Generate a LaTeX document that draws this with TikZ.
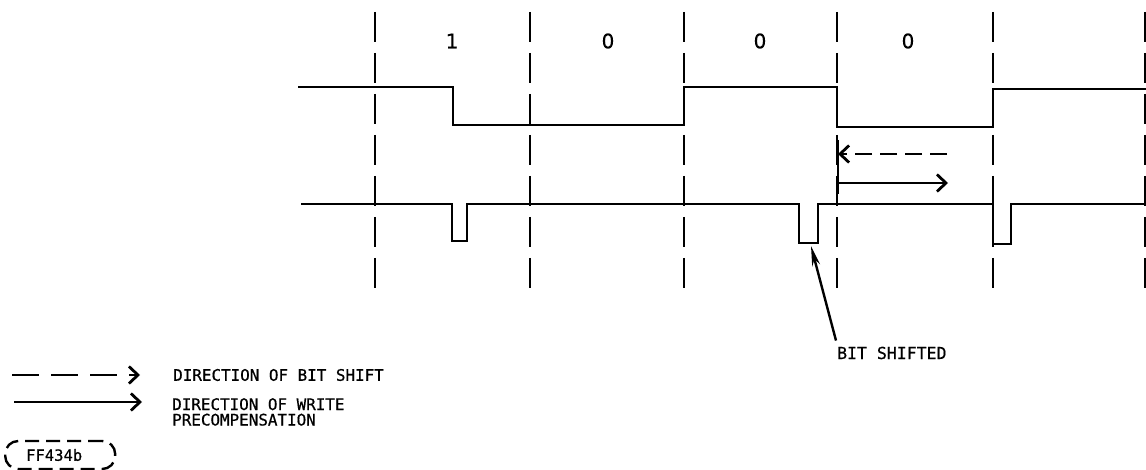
\documentclass[tikz,border=0pt]{standalone}
\usepackage{fontspec}
\newfontfamily\lblfont[FakeBold=0.6]{DejaVu Sans Mono}
\newfontfamily\digfont[FakeBold=0.4]{DejaVu Sans}
\usetikzlibrary{arrows.meta}
\begin{document}
\begin{tikzpicture}[x=1pt,y=-1pt,
  wave/.style={line width=2.8pt, line join=miter},
  gridline/.style={line width=2.8pt, dash pattern=on 30pt off 11pt},
  lbl/.style={font=\lblfont\fontsize{15.9}{15.5}\selectfont, inner sep=0pt},
  bitlbl/.style={font=\digfont\fontsize{20}{20}\selectfont, inner sep=0pt},
  chev/.style={-{Straight Barb[length=9pt,width=17pt]}, line width=2.8pt},
  dchev/.style={chev, dash pattern=on 17pt off 8pt},
  ldchev/.style={chev, dash pattern=on 27pt off 12pt},
  tagbox/.style={draw, line width=2.4pt, dash pattern=on 14pt off 7pt, rounded corners=13pt,
    minimum height=28pt, inner xsep=21pt, inner ysep=0pt, font=\lblfont\fontsize{15.5}{15.5}\selectfont},
]
\useasboundingbox (0,0) rectangle (1146,470);

% bit cell boundaries
\foreach \x/\n in {375/a,530/b,684/c,837/d,993/e,1145/f}{
  \coordinate (g\n top) at (\x,12);
  \coordinate (g\n bot) at (\x,297);
  \draw[gridline] (g\n top) -- (g\n bot);
}

% bit values
\node[bitlbl] (b1) at (452,41) {1};
\node[bitlbl] (b2) at (608,41) {0};
\node[bitlbl] (b3) at (760,41) {0};
\node[bitlbl] (b4) at (908,41) {0};

% write data waveform
\draw[wave] (298,87) -- (453,87) -- (453,125) -- (684,125) -- (684,87) -- (837,87)
  -- (837,127) -- (993,127) -- (993,89) -- (1146,89);

% write pulses
\draw[wave] (301,204) -- (452,204) -- (452,241) -- (467,241) -- (467,204)
  -- (799,204) -- (799,243) -- (818,243) -- (818,204)
  -- (993,204) -- (993,244) -- (1011,244) -- (1011,204) -- (1146,204);
\coordinate (pulse) at (811,246);

% shift / precompensation arrows
\coordinate (reftop) at (838,140);
\coordinate (refbot) at (838,194);
\draw[line width=2.8pt] (reftop) -- (refbot);
\coordinate (shiftfrom) at (947,154);
\coordinate (shiftto) at (838,154);
\draw[dchev] (shiftfrom) -- (shiftto);
\coordinate (precfrom) at (838,183);
\coordinate (precto) at (948,183);
\draw[chev] (precfrom) -- (precto);

% bit shifted label
\node[lbl, anchor=west, font=\lblfont\fontsize{16.5}{16.5}\selectfont] (bs) at (837,353) {BIT SHIFTED};
\draw[line width=2.4pt, -{Stealth[length=20pt,width=8pt]}] ([shift={(-1,-6)}]bs.north west) -- (pulse);

% legend
\coordinate (l1a) at (12,375);
\coordinate (l1b) at (140,375);
\draw[ldchev] (l1a) -- (l1b);
\node[lbl, anchor=west] (t1) at (173,375) {DIRECTION OF BIT SHIFT};
\coordinate (l2a) at (14,402);
\coordinate (l2b) at (142,402);
\draw[chev] (l2a) -- (l2b);
\node[lbl, anchor=north west, align=left] (t2) at (172,398) {DIRECTION OF WRITE\\PRECOMPENSATION};

% figure tag
\node[tagbox, anchor=west] (tag) at (4,455) {FF434b\kern12pt};
\end{tikzpicture}
\end{document}
